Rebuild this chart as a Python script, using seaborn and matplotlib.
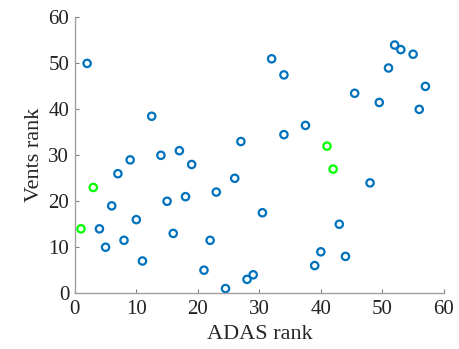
import matplotlib
matplotlib.use("Agg")
import matplotlib.pyplot as plt
import seaborn as sns
import pandas as pd

blue_x = [2, 12.5, 9, 14, 17, 27, 32, 34, 45.5, 49.5, 51, 52, 53, 55, 57, 56, 37.5, 34,
          19, 7, 26, 23, 6, 15, 18, 30.5, 10, 4, 16, 8, 22, 5, 11, 21, 29, 28, 24.5,
          48, 43, 40, 44, 39]
blue_y = [50, 38.5, 29, 30, 31, 33, 51, 47.5, 43.5, 41.5, 49, 54, 53, 52, 45, 40, 36.5, 34.5,
          28, 26, 25, 22, 19, 20, 21, 17.5, 16, 14, 13, 11.5, 11.5, 10, 7, 5, 4, 3, 1,
          24, 15, 9, 8, 6]
green_x = [1, 3, 41, 42]
green_y = [14, 23, 32, 27]

df = pd.DataFrame({
    "x": blue_x + green_x,
    "y": blue_y + green_y,
    "g": ["blue"] * len(blue_x) + ["green"] * len(green_x),
})

sns.set_style("white")
plt.rcParams["font.family"] = ["Liberation Serif", "DejaVu Serif"]

fig = plt.figure(figsize=(4.59, 3.49), dpi=100)
ax = fig.add_axes([0.163, 0.16, 0.804, 0.79])
sns.scatterplot(data=df, x="x", y="y", hue="g",
                palette={"blue": "#0072BD", "green": "#00FF00"},
                marker="o", s=28, linewidth=1.6,
                legend=False, ax=ax)
cols = ["#0072BD"] * len(blue_x) + ["#00FF00"] * len(green_x)
ax.collections[0].set_edgecolor(cols)
ax.collections[0].set_facecolor("none")

ax.set_xlim(0, 60)
ax.set_ylim(0, 60)
ax.set_xticks([0, 10, 20, 30, 40, 50, 60])
ax.set_yticks([0, 10, 20, 30, 40, 50, 60])
ax.set_xlabel("ADAS rank", fontsize=16, labelpad=4)
ax.set_ylabel("Vents rank", fontsize=16, labelpad=3)
ax.tick_params(axis="both", labelsize=15, direction="in", length=3, width=0.8,
               color="#808080", labelcolor="#222222", bottom=True, left=True)
ax.tick_params(axis="x", pad=5)
ax.tick_params(axis="y", pad=4)
for s in ["top", "right"]:
    ax.spines[s].set_visible(False)
for s in ["left", "bottom"]:
    ax.spines[s].set_color("#a0a0a0")
    ax.spines[s].set_linewidth(1.0)

fig.savefig("out.png", dpi=100)
